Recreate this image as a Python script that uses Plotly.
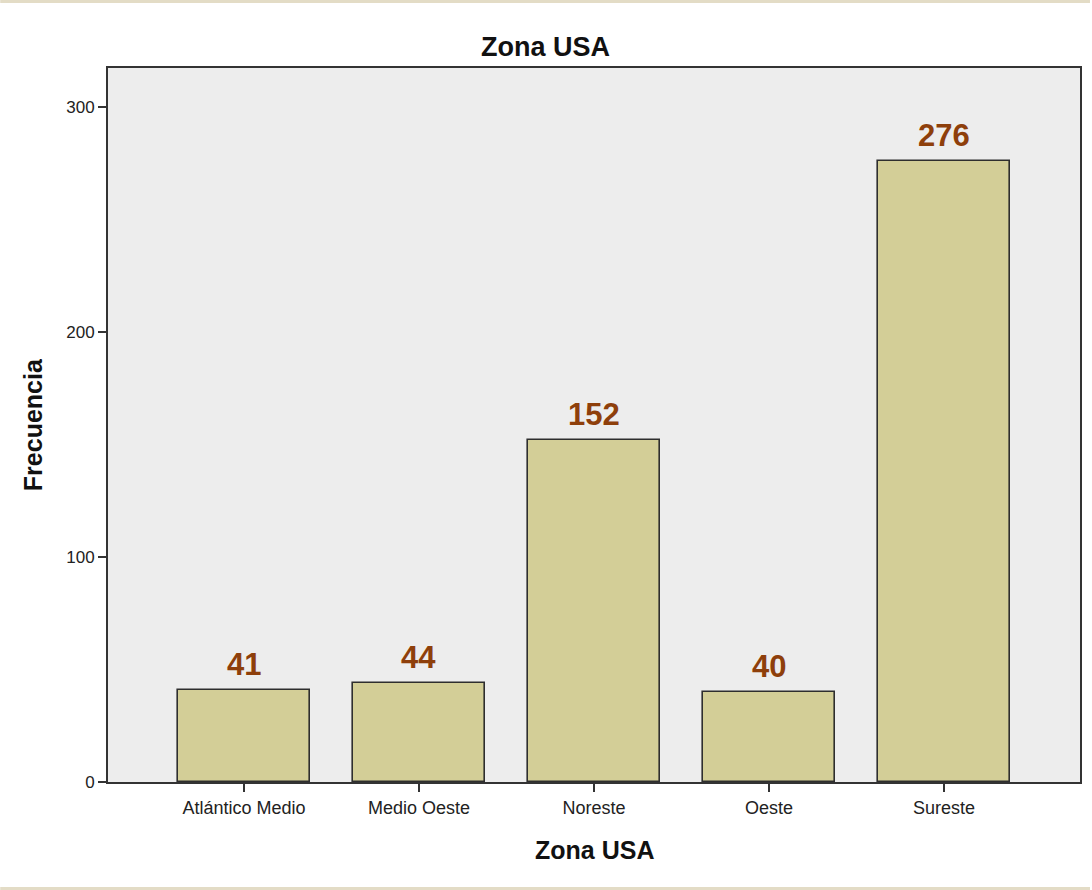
import plotly.graph_objects as go

# Frequency of cases by US zone
zonas = ["Atlántico Medio", "Medio Oeste", "Noreste", "Oeste", "Sureste"]
frecuencias = [41, 44, 152, 40, 276]
y_ticks = [0, 100, 200, 300]

FONT = "Liberation Sans, Arial, sans-serif"
W, H = 1092, 890
L, R, T, B = 108, 10, 68, 108

fig = go.Figure()
fig.add_trace(go.Bar(
    x=list(range(len(zonas))),
    y=frecuencias,
    width=0.75,
    marker=dict(color="#D3CE97", line=dict(color="#2E2E2E", width=1.6)),
    hoverinfo="skip",
))

# value labels above each bar
annotations = []
for i, v in enumerate(frecuencias):
    annotations.append(dict(
        x=i, y=v, xref="x", yref="y", text=str(v), showarrow=False,
        yanchor="bottom", yshift=6,
        font=dict(family=FONT, size=31, color="#8E3F0B", weight="bold"),
    ))

pw = W - L - R
ph = H - T - B
# chart title and axis titles
annotations.append(dict(
    text="Zona USA", xref="paper", yref="paper",
    x=(546 - L) / pw, y=(H - B - 47) / ph, showarrow=False,
    xanchor="center", yanchor="middle",
    font=dict(family=FONT, size=27, color="#111111", weight="bold"),
))
annotations.append(dict(
    text="Zona USA", xref="paper", yref="paper",
    x=(595 - L) / pw, y=(H - B - 850) / ph, showarrow=False,
    xanchor="center", yanchor="middle",
    font=dict(family=FONT, size=25, color="#111111", weight="bold"),
))
annotations.append(dict(
    text="Frecuencia", xref="paper", yref="paper",
    x=(33 - L) / pw, y=(H - B - 425) / ph, showarrow=False,
    xanchor="center", yanchor="middle", textangle=-90,
    font=dict(family=FONT, size=25, color="#111111", weight="bold"),
))

# thin textured-looking bands at the top and bottom edges
shapes = [
    dict(type="rect", xref="paper", yref="paper",
         x0=-L / pw, x1=1 + R / pw, y0=1 + (T - 3) / ph, y1=1 + T / ph,
         fillcolor="#E3DCC6", line=dict(width=0), layer="below"),
    dict(type="rect", xref="paper", yref="paper",
         x0=-L / pw, x1=1 + R / pw, y0=-B / ph, y1=-(B - 3) / ph,
         fillcolor="#E3DCC6", line=dict(width=0), layer="below"),
]

fig.update_layout(
    width=W, height=H,
    margin=dict(l=L, r=R, t=T, b=B, pad=0),
    paper_bgcolor="#FFFFFF",
    plot_bgcolor="#EDEDED",
    showlegend=False,
    annotations=annotations,
    shapes=shapes,
    bargap=0,
)
fig.update_xaxes(
    range=[-0.777, len(zonas) - 1 + 0.777],
    tickmode="array", tickvals=list(range(len(zonas))), ticktext=zonas,
    ticks="outside", ticklen=8, tickcolor="#333333", tickwidth=1.5,
    tickfont=dict(family=FONT, size=18, color="#222222"),
    showline=True, linecolor="#333333", linewidth=1.8, mirror=True,
    showgrid=False, zeroline=False, fixedrange=True,
)
fig.update_yaxes(
    range=[0, 317.3],
    tickmode="array", tickvals=y_ticks,
    ticks="outside", ticklen=8, tickcolor="#333333", tickwidth=1.5,
    tickfont=dict(family=FONT, size=17, color="#222222"),
    showline=True, linecolor="#333333", linewidth=1.8, mirror=True,
    showgrid=False, zeroline=False, fixedrange=True,
)

fig.write_html("out.html")
